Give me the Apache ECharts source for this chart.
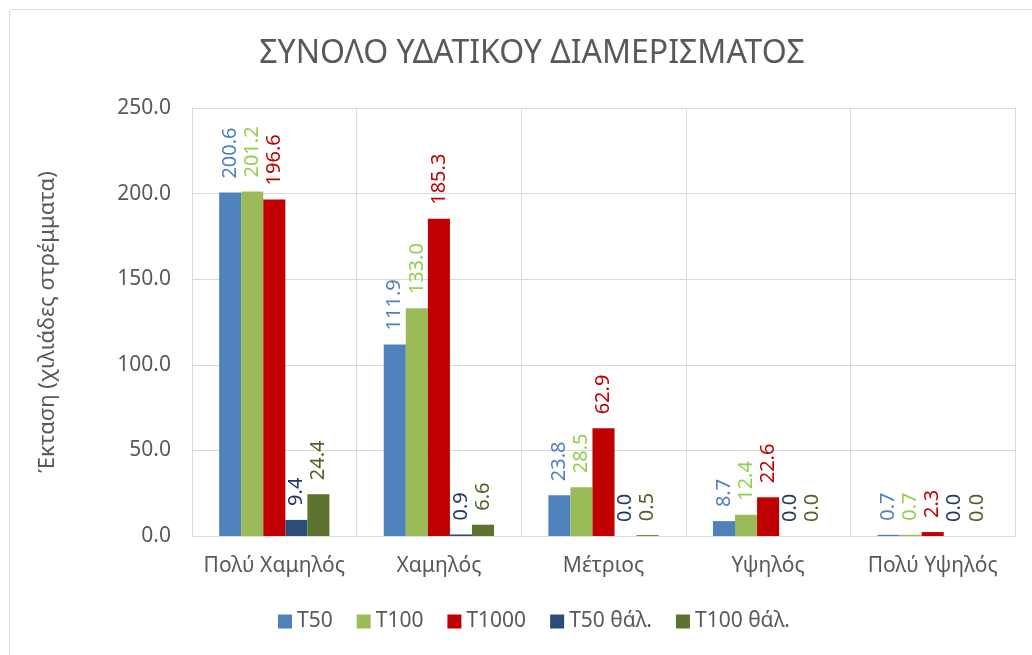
<!DOCTYPE html>
<html>
<head>
<meta charset="utf-8">
<script src="https://cdn.jsdelivr.net/npm/echarts@6/dist/echarts.min.js"></script>
<style>
  html, body { margin: 0; padding: 0; background: #fff; }
  #frame { position: absolute; left: 9px; top: 9px; width: 1040px; height: 660px; border: 1px solid #d9d9d9; border-radius: 3px; }
  #chart { position: absolute; left: 0; top: 0; width: 1032px; height: 655px; }
</style>
</head>
<body>
<div id="frame"></div>
<div id="chart"></div>
<script>
// κατηγορίες επικινδυνότητας
const categories = ['Πολύ Χαμηλός', 'Χαμηλός', 'Μέτριος', 'Υψηλός', 'Πολύ Υψηλός']
const seriesNames = ['T50', 'T100', 'T1000', 'T50 θάλ.', 'T100 θάλ.']

const t50 = [200.6, 111.9, 23.8, 8.7, 0.7]
const t100 = [201.2, 133.0, 28.5, 12.4, 0.7]
const t1000 = [196.6, 185.3, 62.9, 22.6, 2.3]
const t50Sea = [9.4, 0.9, 0.0, 0.0, 0.0]
const t100Sea = [24.4, 6.6, 0.5, 0.0, 0.0]

const yTicks = [0, 50, 100, 150, 200, 250]

const barColors = ['#4f81bd', '#9bbb59', '#c00000', '#2c4d75', '#5e7330']
const labelColors = ['#4f81bd', '#92d050', '#c00000', '#1f3864', '#4f6228']
const allData = [t50, t100, t1000, t50Sea, t100Sea]

const font = '"Noto Sans", sans-serif'

const chart = echarts.init(document.getElementById('chart'))

const option = {
  animation: false,
  title: {
    text: 'ΣΥΝΟΛΟ ΥΔΑΤΙΚΟΥ ΔΙΑΜΕΡΙΣΜΑΤΟΣ',
    left: 527,
    textAlign: 'center',
    top: 33,
    textStyle: { fontFamily: font, fontSize: 32, fontWeight: 'normal', color: '#595959' }
  },
  legend: {
    data: seriesNames,
    top: 606,
    left: 273,
    itemWidth: 14,
    itemHeight: 14,
    itemGap: 24,
    icon: 'rect',
    textStyle: { fontFamily: font, fontSize: 21, color: '#595959' }
  },
  grid: { left: 192, right: 17, top: 108, bottom: 119 },
  xAxis: {
    type: 'category',
    data: categories,
    axisLine: { lineStyle: { color: '#d9d9d9' } },
    axisTick: { show: false },
    axisLabel: { interval: 0, fontFamily: font, fontSize: 21, color: '#595959', margin: 20 },
    splitLine: { show: true, interval: 0, lineStyle: { color: '#d9d9d9', width: 1 } }
  },
  yAxis: {
    type: 'value',
    min: yTicks[0],
    max: yTicks[yTicks.length - 1],
    interval: 50,
    name: 'Έκταση (χιλιάδες στρέμματα)',
    nameLocation: 'middle',
    nameGap: 133,
    nameTextStyle: { fontFamily: font, fontSize: 22, color: '#595959' },
    axisLine: { show: false },
    axisTick: { show: false },
    axisLabel: {
      fontFamily: font, fontSize: 21, color: '#595959', margin: 21,
      formatter: v => v.toFixed(1)
    },
    splitLine: { lineStyle: { color: '#d9d9d9', width: 1 } }
  },
  series: seriesNames.map((name, i) => ({
    name: name,
    type: 'bar',
    data: allData[i],
    barGap: '0%',
    barCategoryGap: '33%',
    itemStyle: { color: barColors[i] },
    label: {
      show: true,
      position: 'top',
      rotate: 90,
      align: 'left',
      verticalAlign: 'middle',
      distance: 14,
      fontFamily: font,
      fontSize: 20,
      color: labelColors[i],
      formatter: p => p.value.toFixed(1)
    }
  }))
}

chart.setOption(option)
</script>
</body>
</html>
